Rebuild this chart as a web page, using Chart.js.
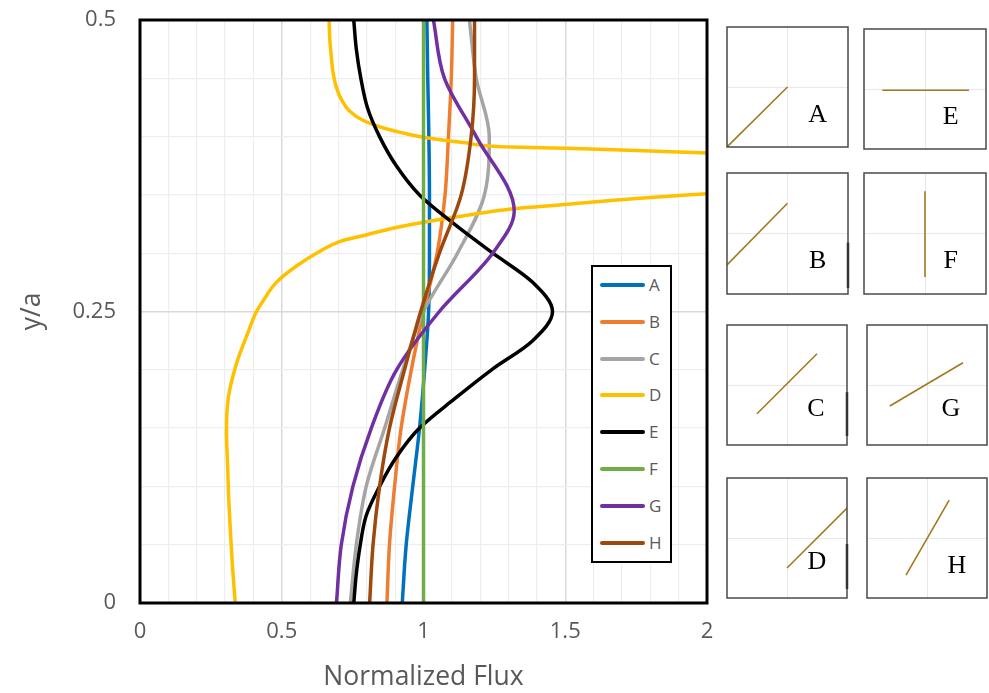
<!DOCTYPE html>
<html><head><meta charset="utf-8">
<script src="https://cdn.jsdelivr.net/npm/chart.js@4.4.1/dist/chart.umd.min.js"></script>
<style>
html,body{margin:0;padding:0;background:#fff;}
#wrap{position:relative;width:989px;height:693px;overflow:hidden;background:#fff;}
#main{position:absolute;left:0;top:0;}
.inset{position:absolute;}
#legend{position:absolute;left:591px;top:265px;width:77px;height:294px;border:2px solid #000;background:#fff;}
.lg-line{position:absolute;left:7px;width:45px;height:4px;border-radius:2px;}
.lg-text{position:absolute;left:56px;height:20px;line-height:20px;font-family:"Open Sans",sans-serif;font-size:17px;color:#595959;}
</style></head>
<body><div id="wrap"><canvas id="main" width="989" height="693"></canvas><div id="legend"></div></div>
<script>
// ---------- data ----------
const seriesNames = ['A','B','C','D','E','F','G','H'];
const seriesColors = ['#0070C0','#ED7D31','#A5A5A5','#FFC000','#000000','#70AD47','#7030A0','#9E480E'];
const xAxisTitle = 'Normalized Flux';
const yAxisTitle = 'y/a';

const yGrid = [0,0.05,0.1,0.15,0.2,0.25,0.3,0.35,0.4,0.45,0.5];
const fluxA = [0.925,0.939,0.962,0.986,1.004,1.018,1.021,1.021,1.019,1.015,1.012];
const fluxB = [0.871,0.880,0.898,0.921,0.957,1.000,1.048,1.076,1.088,1.098,1.103];
const fluxC = [0.742,0.763,0.798,0.863,0.927,1.000,1.120,1.215,1.232,1.186,1.162];
const fluxF = [1.0,1.0,1.0,1.0,1.0,1.0,1.0,1.0,1.0,1.0,1.0];
const fluxH = [0.810,0.822,0.845,0.880,0.933,0.990,1.056,1.133,1.168,1.180,1.180];

const yG    = [0,0.05,0.1,0.15,0.2,0.25,0.3,0.336,0.4,0.45,0.5];
const fluxG = [0.693,0.710,0.751,0.816,0.905,1.056,1.244,1.320,1.186,1.074,1.035];

const yFineE = [0,0.025,0.05,0.075,0.1,0.125,0.15,0.175,0.2,0.225,0.25,0.275,0.3,0.325,0.35,0.375,0.4,0.425,0.45,0.475,0.5];
const fluxE  = [0.754,0.763,0.777,0.798,0.845,0.904,0.986,1.109,1.240,1.385,1.455,1.385,1.245,1.109,0.986,0.904,0.845,0.802,0.779,0.763,0.754];

// D leaves the plot at the right edge (flux -> large) and comes back: two branches, null = gap
const fluxD = [0.336,0.326,0.319,0.313,0.309,0.305,0.311,0.338,0.381,0.411,0.434,0.481,0.552,0.630,0.704,0.786,0.904,1.010,1.140,1.310,1.510,1.750,2.000,null,
               2.000,1.750,1.500,1.310,1.140,1.010,0.930,0.850,0.786,0.739,0.710,0.693,0.681,0.675,0.669,0.667];
const yD    = [0,0.032,0.061,0.089,0.118,0.147,0.175,0.2035,0.232,0.250,0.259,0.275,0.289,0.301,0.310,0.315,0.322,0.327,0.332,0.338,0.342,0.347,0.351,null,
               0.386,0.388,0.390,0.391,0.395,0.399,0.403,0.408,0.414,0.422,0.432,0.442,0.455,0.468,0.485,0.500];

// inset diagrams: segment endpoints in box coordinates (-1..1)
const insetNames  = ['A','B','C','D','E','F','G','H'];
const insetStartX = [-1.00,-1.00,-0.50, 0.00,-0.70, 0.00,-0.62,-0.35];
const insetStartY = [-1.00,-0.52,-0.48,-0.50,-0.02,-0.72,-0.35,-0.62];
const insetEndX   = [ 0.00, 0.00, 0.50, 1.00, 0.72, 0.00, 0.60, 0.37];
const insetEndY   = [ 0.00, 0.50, 0.52, 0.50,-0.02, 0.70, 0.37, 0.63];

// ---------- helpers ----------
function pts(xs, ys){ return xs.map((x,i)=>({x:x, y:ys[i]})); }
const seriesData = {
  A: pts(fluxA,yGrid), B: pts(fluxB,yGrid), C: pts(fluxC,yGrid), D: pts(fluxD,yD),
  E: pts(fluxE,yFineE), F: pts(fluxF,yGrid), G: pts(fluxG,yG), H: pts(fluxH,yGrid)
};
function isMult(v, s){ const q=v/s; return Math.abs(q-Math.round(q))<1e-6; }
const FONT = '"Open Sans", sans-serif';
const TXT = '#595959';

const frame = {
  id:'frame',
  afterDatasetsDraw(chart){
    const {ctx, chartArea:a} = chart;
    ctx.save(); ctx.strokeStyle='#000'; ctx.lineWidth=3;
    ctx.strokeRect(a.left, a.top, a.right-a.left, a.bottom-a.top);
    ctx.restore();
  }
};

new Chart(document.getElementById('main'), {
  type:'line',
  data:{ datasets: seriesNames.map((n,i)=>({
    label:n, data:seriesData[n], borderColor:seriesColors[i], backgroundColor:seriesColors[i],
    borderWidth:3.5, pointRadius:0, cubicInterpolationMode:'monotone', spanGaps:false, order:8-i, fill:false,
    borderCapStyle:'round', borderJoinStyle:'round'
  }))},
  options:{
    indexAxis:'y',
    responsive:false, animation:false, events:[],
    layout:{padding:{left:0,right:282,top:20,bottom:0}},
    plugins:{legend:{display:false}, tooltip:{enabled:false}},
    scales:{
      x:{type:'linear', min:0, max:2,
        afterFit(s){ s.height = 90; },
        ticks:{stepSize:0.1, autoSkip:false, maxRotation:0, padding:16, color:TXT, font:{family:FONT,size:22},
          callback:(v)=> isMult(v,0.5) ? String(Math.round(v*10)/10) : ''},
        grid:{drawTicks:false, color:(c)=> isMult(c.tick.value,0.5)?'#d9d9d9':'#eeeeee', lineWidth:(c)=> isMult(c.tick.value,0.5)?1.5:1.2},
        border:{display:false},
        title:{display:true, text:xAxisTitle, color:TXT, font:{family:FONT,size:26.5}, padding:{top:0,bottom:0}}
      },
      y:{type:'linear', min:0, max:0.5,
        afterFit(s){ s.width = 140; s.paddingTop = 0; s.paddingBottom = 0; },
        ticks:{stepSize:0.05, autoSkip:false, padding:24, color:TXT, font:{family:FONT,size:22},
          callback:(v)=> isMult(v,0.25) ? String(Math.round(v*100)/100) : ''},
        grid:{drawTicks:false, color:(c)=> isMult(c.tick.value,0.25)?'#d9d9d9':'#eeeeee', lineWidth:(c)=> isMult(c.tick.value,0.25)?1.5:1.2},
        border:{display:false},
        title:{display:true, text:yAxisTitle, color:TXT, font:{family:FONT,size:26.5}, padding:{top:17,bottom:0}}
      }
    }
  },
  plugins:[frame]
});

// legend (HTML, built from series arrays)
const lg = document.getElementById('legend');
seriesNames.forEach((n,i)=>{
  const cy = 17.7 + 36.9*i;
  const ln = document.createElement('div'); ln.className='lg-line';
  ln.style.top = (cy-2)+'px'; ln.style.background = seriesColors[i]; lg.appendChild(ln);
  const tx = document.createElement('div'); tx.className='lg-text';
  tx.style.top = (cy-10)+'px'; tx.textContent = n; lg.appendChild(tx);
});

// ---------- insets ----------
const insetBoxes = { A:[727,27,121,120], E:[864,29,122,120], B:[727,173,121,121], F:[864,173,122,121],
                     C:[727,325,120,120], G:[867,325,120,120], D:[727,478,120,120], H:[867,478,120,120] };
const insetLabelPos = { A:[0.5,-0.47], E:[0.42,-0.47], B:[0.5,-0.45], F:[0.42,-0.45],
                        C:[0.48,-0.40], G:[0.4,-0.40], D:[0.5,-0.40], H:[0.5,-0.47] };
const insetEdgeMark = { B:[-0.15,-0.9], C:[-0.12,-0.85], D:[-0.1,-0.85] };
const wrap = document.getElementById('wrap');
insetNames.forEach((n,i)=>{
  const [l,t,w,h] = insetBoxes[n];
  const cv = document.createElement('canvas');
  cv.className='inset'; cv.width=w+4; cv.height=h+4;
  cv.style.left=(l-2)+'px'; cv.style.top=(t-2)+'px';
  wrap.appendChild(cv);
  const deco = {
    id:'deco'+n,
    afterDatasetsDraw(chart){
      const {ctx, chartArea:a, scales:{x,y}} = chart;
      ctx.save();
      ctx.strokeStyle='#4a4a4a'; ctx.lineWidth=1.5;
      ctx.strokeRect(a.left, a.top, a.right-a.left, a.bottom-a.top);
      const em = insetEdgeMark[n];
      if (em){ ctx.lineWidth=2.5; ctx.strokeStyle='#333'; ctx.beginPath();
        ctx.moveTo(a.right, y.getPixelForValue(em[0])); ctx.lineTo(a.right, y.getPixelForValue(em[1])); ctx.stroke(); }
      const lp = insetLabelPos[n];
      ctx.fillStyle='#000'; ctx.font='26px "Liberation Serif", "DejaVu Serif", serif';
      ctx.textAlign='center'; ctx.textBaseline='middle';
      ctx.fillText(n, x.getPixelForValue(lp[0]), y.getPixelForValue(lp[1]));
      ctx.restore();
    }
  };
  const gridOpt = {drawTicks:false, color:(c)=> c.tick.value===0 ? '#e8e8e8' : 'rgba(0,0,0,0)', lineWidth:1};
  new Chart(cv, {
    type:'line',
    data:{datasets:[{data:[{x:insetStartX[i],y:insetStartY[i]},{x:insetEndX[i],y:insetEndY[i]}],
      borderColor:'#A07A1E', borderWidth:1.6, pointRadius:0, fill:false}]},
    options:{responsive:false, animation:false, events:[],
      layout:{padding:2},
      plugins:{legend:{display:false}, tooltip:{enabled:false}},
      scales:{
        x:{type:'linear', min:-1, max:1, ticks:{display:false, stepSize:1}, grid:gridOpt, border:{display:false}},
        y:{type:'linear', min:-1, max:1, ticks:{display:false, stepSize:1}, grid:gridOpt, border:{display:false}}
      }
    },
    plugins:[deco]
  });
});
</script>
</body></html>
